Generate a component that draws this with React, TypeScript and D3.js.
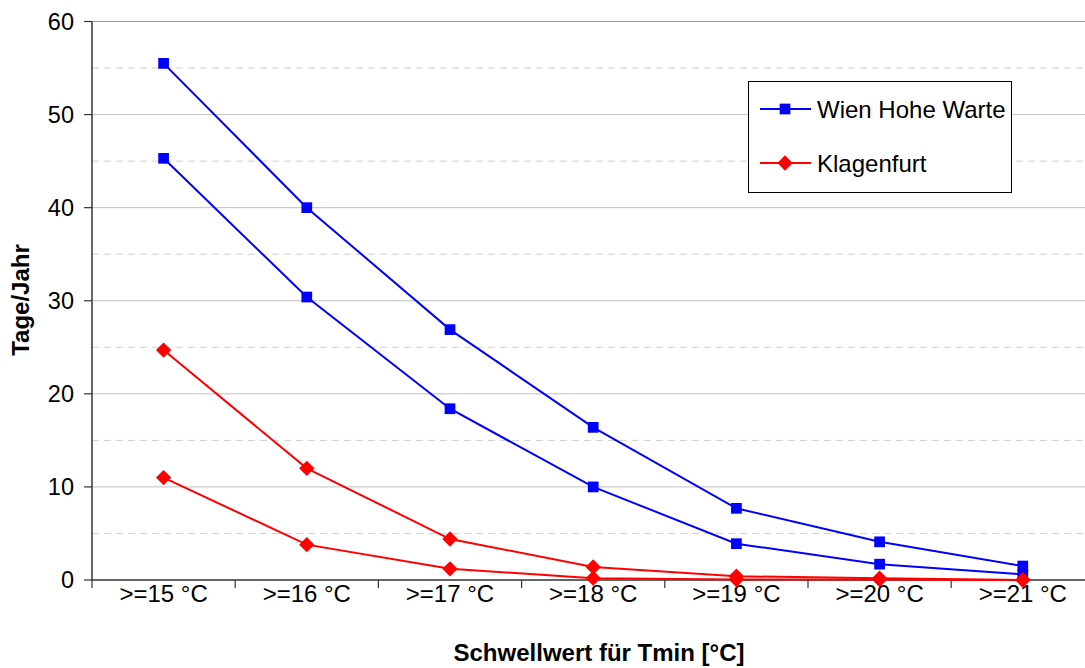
import React from "react";
import * as d3 from "d3";

const categories = [">=15 °C", ">=16 °C", ">=17 °C", ">=18 °C", ">=19 °C", ">=20 °C", ">=21 °C"];
const wienUpper = [55.5, 40.0, 26.9, 16.4, 7.7, 4.1, 1.5];
const wienLower = [45.3, 30.4, 18.4, 10.0, 3.9, 1.7, 0.6];
const klagenfurtUpper = [24.7, 12.0, 4.4, 1.4, 0.4, 0.2, 0.0];
const klagenfurtLower = [11.0, 3.8, 1.2, 0.2, 0.05, 0.05, 0.0];
const yTicks = [0, 10, 20, 30, 40, 50, 60];
const yMinorGrid = [5, 15, 25, 35, 45, 55];
const legendItems = [
  { name: "Wien Hohe Warte", color: "#0000ff", marker: "square" },
  { name: "Klagenfurt", color: "#ff0000", marker: "diamond" },
];
const xTitle = "Schwellwert für Tmin [°C]";
const yTitle = "Tage/Jahr";

const W = 1085;
const H = 668;
const left = 92;
const top = 21.5;
const bottom = 580;
const right = 1094.4;

export default function App() {
  const x = d3.scaleBand<string>().domain(categories).range([left, right]).padding(0);
  const y = d3.scaleLinear().domain([0, 60]).range([bottom, top]);
  const cx = (i: number) => (x(categories[i]) as number) + x.bandwidth() / 2;
  const line = d3
    .line<number>()
    .x((_, i) => cx(i))
    .y((d) => y(d));

  const series = [
    { data: wienUpper, color: "#0000ff", marker: "square" },
    { data: wienLower, color: "#0000ff", marker: "square" },
    { data: klagenfurtUpper, color: "#ff0000", marker: "diamond" },
    { data: klagenfurtLower, color: "#ff0000", marker: "diamond" },
  ];

  const sq = d3.symbol(d3.symbolSquare, 115)();
  const dia = d3.symbol(d3.symbolDiamond2, 150)();
  const markerPath = (m: string) => (m === "square" ? sq : dia);

  const font = "'Liberation Sans', Arial, sans-serif";

  return (
    <svg
      width={W}
      height={H}
      style={{ position: "absolute", left: 0, top: 0, background: "#fff" }}
      fontFamily={font}
    >
      <rect x={0} y={0} width={W} height={H} fill="#fff" />
      {yMinorGrid.map((t) => (
        <line key={"m" + t} x1={left} x2={W} y1={y(t)} y2={y(t)} stroke="#d0d0d0" strokeWidth={1} strokeDasharray="7,5" />
      ))}
      {yTicks.filter((t) => t > 0).map((t) => (
        <line key={"g" + t} x1={left} x2={W} y1={y(t)} y2={y(t)} stroke={t === 60 ? "#9a9a9a" : "#c0c0c0"} strokeWidth={1} />
      ))}
      {/* y axis */}
      <line x1={left} x2={left} y1={top} y2={bottom} stroke="#333" strokeWidth={1.5} />
      {yTicks.map((t) => (
        <g key={"yt" + t}>
          <line x1={left - 8} x2={left} y1={y(t)} y2={y(t)} stroke="#333" strokeWidth={1.2} />
          <text x={74} y={y(t)} dy="0.36em" textAnchor="end" fontSize={23.5} fill="#000">
            {t}
          </text>
        </g>
      ))}
      {/* x axis */}
      <line x1={left} x2={W} y1={bottom} y2={bottom} stroke="#333" strokeWidth={1.5} />
      {categories.map((c, i) => (
        <line key={"xt" + i} x1={x(c) as number} x2={x(c) as number} y1={bottom} y2={bottom + 8} stroke="#333" strokeWidth={1.2} />
      ))}
      {categories.map((c, i) => (
        <text key={"xl" + i} x={cx(i)} y={602} textAnchor="middle" fontSize={24} fill="#000">
          {c}
        </text>
      ))}
      {/* series */}
      {series.map((s, k) => (
        <g key={"s" + k}>
          <path d={line(s.data) as string} fill="none" stroke={s.color} strokeWidth={2} />
          {s.data.map((v, i) => (
            <path key={i} d={markerPath(s.marker) as string} transform={`translate(${cx(i)},${y(v)})`} fill={s.color} />
          ))}
        </g>
      ))}
      {/* legend */}
      <rect x={748.5} y={81.5} width={263} height={111} fill="#fff" stroke="#000" strokeWidth={1} />
      {legendItems.map((li, i) => {
        const ly = 109 + i * 54;
        return (
          <g key={"lg" + i}>
            <line x1={760} x2={811} y1={ly} y2={ly} stroke={li.color} strokeWidth={2} />
            <path d={markerPath(li.marker) as string} transform={`translate(785,${ly})`} fill={li.color} />
            <text x={817} y={ly} dy="0.36em" fontSize={24} fill="#000">
              {li.name}
            </text>
          </g>
        );
      })}
      <text x={599} y={661} textAnchor="middle" fontSize={24} fontWeight="bold" fill="#000">
        {xTitle}
      </text>
      <text transform={`translate(29,${300}) rotate(-90)`} textAnchor="middle" fontSize={24} fontWeight="bold" fill="#000">
        {yTitle}
      </text>
    </svg>
  );
}
